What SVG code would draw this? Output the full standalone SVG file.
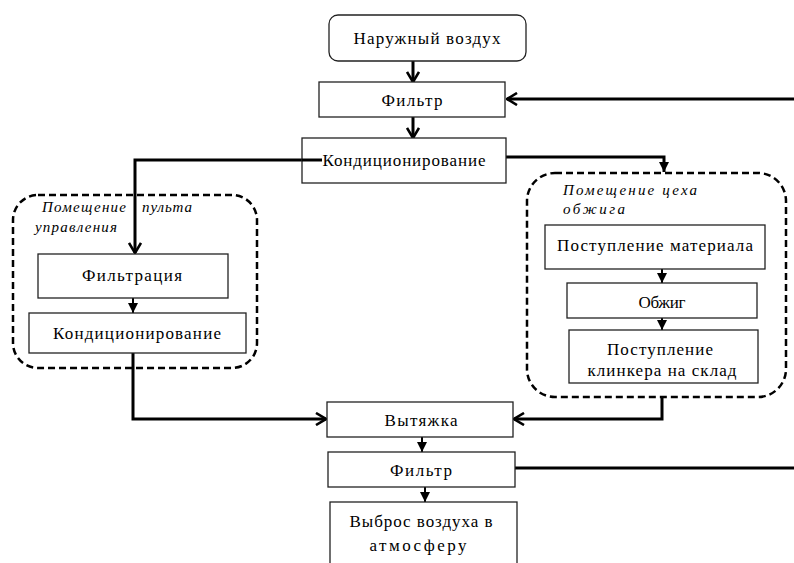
<svg xmlns="http://www.w3.org/2000/svg" width="794" height="563" viewBox="0 0 794 563">
<style>
.box{fill:#fff;stroke:#222;stroke-width:1.3}
.room{fill:none;stroke:#000;stroke-width:2.5;stroke-dasharray:7 4}
text{font-family:'Liberation Serif','DejaVu Serif',serif;fill:#000}
.lbl{font-size:17px;text-anchor:middle}
.it{font-style:italic;font-size:15px}
.c{fill:none;stroke:#000;stroke-width:3}
.t{fill:none;stroke:#000;stroke-width:2}
</style>
<defs>
<marker id="open" viewBox="0 0 12 14" refX="11" refY="7" markerWidth="12" markerHeight="14" markerUnits="userSpaceOnUse" orient="auto">
<path d="M1,1 L11,7 L1,13" fill="none" stroke="#000" stroke-width="2.6"/>
</marker>
<marker id="tri" viewBox="0 0 10 10" refX="10" refY="5" markerWidth="10" markerHeight="10" markerUnits="userSpaceOnUse" orient="auto">
<path d="M0,0 L10,5 L0,10 z" fill="#000"/>
</marker>
</defs>
<rect width="794" height="563" fill="#fff"/>

<g id="room-left"><rect class="room" x="13" y="195" width="244" height="173" rx="25"/>
<text class="it" x="42" y="212" textLength="84" lengthAdjust="spacing">Помещение</text>
<text class="it" x="142" y="212" textLength="50" lengthAdjust="spacing">пульта</text>
<text class="it" x="35" y="232" textLength="82" lengthAdjust="spacing">управления</text></g>
<g id="room-right"><rect class="room" x="527" y="173" width="259" height="224" rx="28"/>
<text class="it" x="563" y="195" textLength="134" lengthAdjust="spacing">Помещение цеха</text>
<text class="it" x="563" y="214" textLength="62" lengthAdjust="spacing">обжига</text></g>

<g id="connectors">
<path class="c" d="M413,61 V82" marker-end="url(#open)"/>
<path class="c" d="M413,117 V138" marker-end="url(#open)"/>
<path class="c" d="M794,99 H507" marker-end="url(#open)"/>
<path class="c" d="M322,160 H135 V253" marker-end="url(#open)"/>
<path class="c" d="M503,157 H664 V172" marker-end="url(#tri)"/>
<path class="c" d="M133,352 V419 H326" marker-end="url(#open)"/>
<path class="c" d="M662,397 V419 H514" marker-end="url(#open)"/>
<path class="c" d="M794,468 H515"/>
<path class="t" d="M422,437 V452" marker-end="url(#tri)"/>
<path class="t" d="M425,487 V502" marker-end="url(#tri)"/>
<path class="t" d="M133,298 V313" marker-end="url(#tri)"/>
<path class="t" d="M662,269 V283" marker-end="url(#tri)"/>
<path class="t" d="M662,318 V330" marker-end="url(#tri)"/>
</g>

<g id="outside-air"><rect class="box" x="329" y="15" width="197" height="46" rx="9"/>
<text class="lbl" x="427" y="44" textLength="147" lengthAdjust="spacing">Наружный воздух</text></g>
<g id="filter-in"><rect class="box" x="319" y="82" width="186" height="35"/>
<text class="lbl" x="412" y="106" textLength="61" lengthAdjust="spacing">Фильтр</text></g>
<g id="cond-main"><rect class="box" x="302" y="138" width="204" height="45"/>
<text class="lbl" x="404" y="166" textLength="163" lengthAdjust="spacing">Кондиционирование</text></g>
<path class="c" d="M302,160 H322"/>

<g id="filtration"><rect class="box" x="38" y="254" width="190" height="44"/>
<text class="lbl" x="132" y="281" textLength="100" lengthAdjust="spacing">Фильтрация</text></g>
<g id="cond-left"><rect class="box" x="29" y="313" width="217" height="40"/>
<text class="lbl" x="137" y="339" textLength="168" lengthAdjust="spacing">Кондиционирование</text></g>

<g id="material-in"><rect class="box" x="545" y="225" width="220" height="44"/>
<text class="lbl" x="655" y="251" textLength="196" lengthAdjust="spacing">Поступление материала</text></g>
<g id="firing"><rect class="box" x="567" y="283" width="190" height="35"/>
<text class="lbl" x="662" y="308" textLength="47" lengthAdjust="spacing">Обжиг</text></g>
<g id="clinker"><rect class="box" x="569" y="330" width="189" height="53"/>
<text class="lbl" x="660" y="355" textLength="106" lengthAdjust="spacing">Поступление</text>
<text class="lbl" x="662" y="376" textLength="149" lengthAdjust="spacing">клинкера на склад</text></g>

<g id="exhaust"><rect class="box" x="327" y="402" width="186" height="35"/>
<text class="lbl" x="421" y="426" textLength="73" lengthAdjust="spacing">Вытяжка</text></g>
<g id="filter-out"><rect class="box" x="328" y="452" width="187" height="35"/>
<text class="lbl" x="421" y="476" textLength="62" lengthAdjust="spacing">Фильтр</text></g>
<g id="release"><rect class="box" x="330" y="502" width="187" height="70"/>
<text class="lbl" x="421" y="527" textLength="143" lengthAdjust="spacing">Выброс воздуха в</text>
<text class="lbl" x="418" y="551" textLength="97" lengthAdjust="spacing">атмосферу</text></g>
</svg>
